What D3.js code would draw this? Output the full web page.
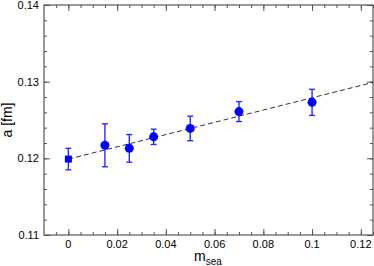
<!DOCTYPE html>
<html lang="en">
<head>
<meta charset="utf-8" />
<script src="https://cdn.jsdelivr.net/npm/d3@7"></script>
<style>
  body { margin: 0; background: #fff; }
  text { font-family: "Liberation Sans", Arial, sans-serif; fill: #000; }
</style>
</head>
<body>
<script>
// data
var mSea = [0, 0.015, 0.025, 0.035, 0.05, 0.07, 0.1];
var aVal = [0.1199, 0.1217, 0.1213, 0.1228, 0.1239, 0.1261, 0.1273];
var aErr = [0.0014, 0.0028, 0.0018, 0.0010, 0.0016, 0.0013, 0.0017];
var fitLine = [[0, 0.1199], [0.125, 0.1299]];
var xTicks = [0, 0.02, 0.04, 0.06, 0.08, 0.1, 0.12];
var yTicks = [0.11, 0.12, 0.13, 0.14];

var w = 374, h = 266;
var pLeft = 44, pRight = 373, pTop = 5, pBottom = 235;

var x = d3.scaleLinear().domain([-0.01, 0.125]).range([pLeft, pRight]);
var y = d3.scaleLinear().domain([0.11, 0.14]).range([pBottom, pTop]);

var svg = d3.select("body").append("svg").attr("width", w).attr("height", h);

var frameColor = "#555";

// minor + major ticks, inward on all sides
var xMinor = d3.range(-0.005, 0.1251, 0.005);
var yMinor = d3.range(0.11, 0.1401, 0.002);

function axis(gen, sc, ticks, size, tx) {
  var g = svg.append("g").attr("transform", tx)
    .call(gen(sc).tickValues(ticks).tickSize(size).tickFormat(""));
  g.select(".domain").remove();
  g.selectAll("line").attr("stroke", frameColor);
  return g;
}
var bt = "translate(0," + pBottom + ")", tt = "translate(0," + pTop + ")";
var lt = "translate(" + pLeft + ",0)", rt = "translate(" + pRight + ",0)";
axis(d3.axisTop, x, xMinor, 3, bt);
axis(d3.axisTop, x, xTicks, 6, bt);
axis(d3.axisBottom, x, xMinor, 3, tt);
axis(d3.axisBottom, x, xTicks, 6, tt);
axis(d3.axisRight, y, yMinor, 3, lt);
axis(d3.axisRight, y, yTicks, 6, lt);
axis(d3.axisLeft, y, yMinor, 3, rt);
axis(d3.axisLeft, y, yTicks, 6, rt);

svg.append("rect")
  .attr("x", pLeft).attr("y", pTop)
  .attr("width", pRight - pLeft).attr("height", pBottom - pTop)
  .attr("fill", "none").attr("stroke", frameColor).attr("stroke-width", 1.2);

// tick labels
svg.append("g").selectAll("text").data(xTicks).enter().append("text")
  .attr("x", function(d) { return x(d); })
  .attr("y", pBottom + 13)
  .attr("text-anchor", "middle")
  .attr("font-size", 11)
  .text(function(d) { return d === 0 ? "0" : String(d); });

svg.append("g").selectAll("text").data(yTicks).enter().append("text")
  .attr("x", pLeft - 5)
  .attr("y", function(d) { return y(d) + 4; })
  .attr("text-anchor", "end")
  .attr("font-size", 11)
  .text(function(d) { return d.toFixed(2); });

// axis titles
svg.append("text")
  .attr("transform", "translate(12," + ((pTop + pBottom) / 2) + ") rotate(-90)")
  .attr("text-anchor", "middle")
  .attr("font-size", 14)
  .text("a [fm]");

var xl = svg.append("text")
  .attr("x", 194).attr("y", 261)
  .attr("font-size", 14);
xl.append("tspan").text("m");
xl.append("tspan").attr("font-size", 10).attr("dy", 4).text("sea");

// fit line
svg.append("path")
  .datum(fitLine)
  .attr("d", d3.line().x(function(d) { return x(d[0]); }).y(function(d) { return y(d[1]); }))
  .attr("fill", "none")
  .attr("stroke", "#333")
  .attr("stroke-width", 1)
  .attr("stroke-dasharray", "5,3");

// error bars
var pts = mSea.map(function(m, i) { return { m: m, a: aVal[i], e: aErr[i], sq: i === 0 }; });
var eb = svg.append("g").attr("stroke", "#2a2aff").attr("stroke-width", 1.4);
pts.forEach(function(d) {
  var cx = x(d.m), y0 = y(d.a - d.e), y1 = y(d.a + d.e);
  eb.append("line").attr("x1", cx).attr("x2", cx).attr("y1", y0).attr("y2", y1);
  eb.append("line").attr("x1", cx - 3).attr("x2", cx + 3).attr("y1", y0).attr("y2", y0);
  eb.append("line").attr("x1", cx - 3).attr("x2", cx + 3).attr("y1", y1).attr("y2", y1);
});

// markers
svg.append("g").selectAll("circle").data(pts.filter(function(d) { return !d.sq; })).enter()
  .append("circle")
  .attr("cx", function(d) { return x(d.m); })
  .attr("cy", function(d) { return y(d.a); })
  .attr("r", 4.5)
  .attr("fill", "#0000ff");

svg.append("g").selectAll("rect").data(pts.filter(function(d) { return d.sq; })).enter()
  .append("rect")
  .attr("x", function(d) { return x(d.m) - 3.5; })
  .attr("y", function(d) { return y(d.a) - 3.5; })
  .attr("width", 7).attr("height", 7)
  .attr("fill", "#0000ff");
</script>
</body>
</html>
